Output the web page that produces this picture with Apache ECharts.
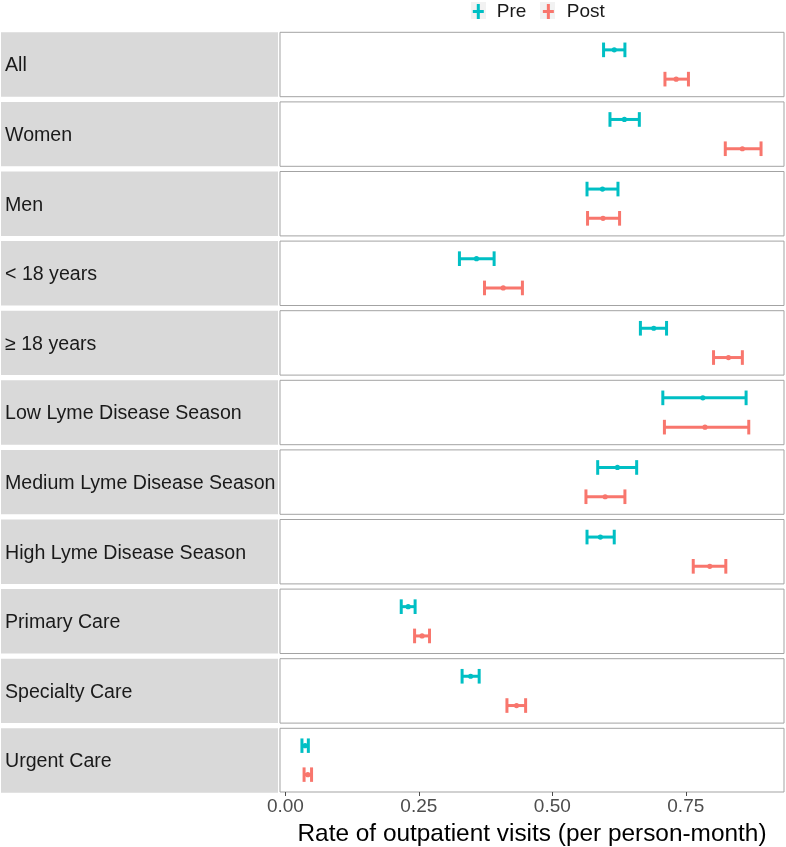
<!DOCTYPE html>
<html>
<head>
<meta charset="utf-8">
<script src="https://cdn.jsdelivr.net/npm/echarts@6/dist/echarts.min.js"></script>
<style>
html,body{margin:0;padding:0;background:#fff;}
#chart{width:786px;height:847px;}
</style>
</head>
<body>
<div id="chart"></div>
<script>
// ---- data ----
const categories = ['All','Women','Men','< 18 years','\u2265 18 years','Low Lyme Disease Season','Medium Lyme Disease Season','High Lyme Disease Season','Primary Care','Specialty Care','Urgent Care'];
const groups = ['Pre','Post'];
const preMean = [0.616,0.635,0.594,0.358,0.690,0.782,0.622,0.590,0.230,0.347,0.037];
const preLow  = [0.596,0.608,0.565,0.326,0.665,0.707,0.585,0.565,0.217,0.331,0.031];
const preHigh = [0.636,0.663,0.623,0.391,0.714,0.863,0.658,0.616,0.243,0.363,0.043];
const postMean = [0.732,0.856,0.595,0.408,0.830,0.786,0.599,0.795,0.256,0.433,0.042];
const postLow  = [0.711,0.824,0.566,0.373,0.802,0.710,0.563,0.764,0.242,0.415,0.035];
const postHigh = [0.755,0.891,0.626,0.444,0.856,0.868,0.636,0.825,0.270,0.450,0.049];
const tickValues = [0, 0.25, 0.5, 0.75];
const xTitle = 'Rate of outpatient visits (per person-month)';

// ---- layout / style ----
const colors = {Pre:'#00BFC4', Post:'#F8766D'};
const FONT = '"Liberation Sans", Arial, sans-serif';
const panelTop0 = 32.3, panelStep = 69.6, panelH = 64.4;
const panelLeft = 280, panelRight = 2;
const xMin = -0.0101, xMax = 0.934;

const chart = echarts.init(document.getElementById('chart'), null, {renderer:'canvas'});

const grids = [], xAxes = [], yAxes = [], series = [], graphics = [];

function renderErr(params, api){
  const lo = api.value(0), hi = api.value(1), m = api.value(2), y = api.value(3);
  const pL = api.coord([lo, y]), pH = api.coord([hi, y]), pM = api.coord([m, y]);
  const capTop = api.coord([lo, y - 0.25])[1], capBot = api.coord([lo, y + 0.25])[1];
  const color = api.visual('color');
  const st = {stroke: color, lineWidth: 3, lineCap: 'butt'};
  return {
    type:'group',
    children:[
      {type:'line', shape:{x1:pL[0], y1:pL[1], x2:pH[0], y2:pH[1]}, style:st},
      {type:'line', shape:{x1:pL[0], y1:capTop, x2:pL[0], y2:capBot}, style:st},
      {type:'line', shape:{x1:pH[0], y1:capTop, x2:pH[0], y2:capBot}, style:st},
      {type:'circle', shape:{cx:pM[0], cy:pM[1], r:2.6}, style:{fill:color}}
    ]
  };
}

categories.forEach((cat, i) => {
  const top = panelTop0 + i * panelStep;
  const last = i === categories.length - 1;
  grids.push({left: panelLeft, right: panelRight, top: top, height: panelH, show: true,
    borderColor: '#A3A3A3', borderWidth: 1, backgroundColor: '#fff', containLabel: false});
  xAxes.push({
    type: 'value', gridIndex: i, min: xMin, max: xMax,
    axisLine: {show: false},
    splitLine: {show: false},
    axisTick: {show: last, length: 4, lineStyle: {color: '#4D4D4D'}, customValues: tickValues},
    axisLabel: {show: last, customValues: tickValues, formatter: v => v.toFixed(2),
      fontSize: 19, color: '#4D4D4D', fontFamily: FONT, margin: 5},
    name: last ? xTitle : '', nameLocation: 'middle', nameGap: 30,
    nameTextStyle: {fontSize: 24.4, color: '#000', fontFamily: FONT}
  });
  yAxes.push({type: 'value', gridIndex: i, min: 0.4, max: 2.6, inverse: true, show: false});
  series.push({
    name: 'Pre', type: 'custom', xAxisIndex: i, yAxisIndex: i,
    itemStyle: {color: colors.Pre},
    renderItem: renderErr, encode: {x: [0, 1, 2], y: 3},
    data: [[preLow[i], preHigh[i], preMean[i], 1]]
  });
  series.push({
    name: 'Post', type: 'custom', xAxisIndex: i, yAxisIndex: i,
    itemStyle: {color: colors.Post},
    renderItem: renderErr, encode: {x: [0, 1, 2], y: 3},
    data: [[postLow[i], postHigh[i], postMean[i], 2]]
  });
  // strip
  graphics.push({type: 'rect', left: 1, top: top, shape: {width: 277, height: panelH},
    style: {fill: '#D9D9D9'}, z: 0});
  graphics.push({type: 'text', x: 5, y: top + panelH / 2 + 1.5,
    style: {text: cat, fontSize: 19.6, fill: '#1A1A1A', fontFamily: FONT, verticalAlign: 'middle'}, z: 1});
});

// legend key backgrounds
graphics.push({type: 'rect', left: 471, top: 2, shape: {width: 15, height: 17}, style: {fill: '#F2F2F2'}, z: 0});
graphics.push({type: 'rect', left: 540, top: 2, shape: {width: 15, height: 17}, style: {fill: '#F2F2F2'}, z: 0});

chart.setOption({
  animation: false,
  backgroundColor: '#fff',
  textStyle: {fontFamily: FONT},
  legend: {
    data: groups.map(g => ({name: g, icon: 'path://M4,0h3v15h-3z M0,6h11v3h-11z'})),
    left: 467.8, top: -3, itemWidth: 11, itemHeight: 15, itemGap: 16.5,
    textStyle: {fontSize: 19, color: '#1A1A1A', fontFamily: FONT, padding: [0, 0, 0, 8]},
    selectedMode: false
  },
  grid: grids,
  xAxis: xAxes,
  yAxis: yAxes,
  series: series,
  graphic: graphics
});
</script>
</body>
</html>
